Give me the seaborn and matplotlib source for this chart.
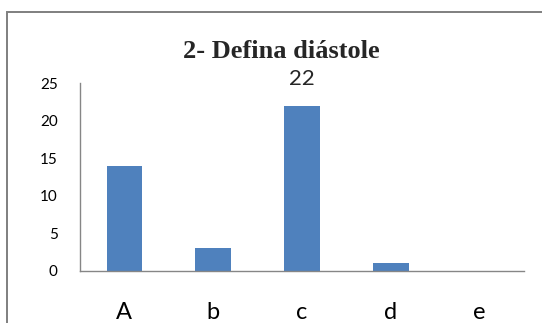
import matplotlib
matplotlib.use("Agg")
import matplotlib.pyplot as plt
import seaborn as sns
import pandas as pd
from matplotlib.patches import Rectangle

categories = ["A", "b", "c", "d", "e"]
values = [14, 3, 22, 1, 0]
labelled = {"c": 22}
title = "2- Defina diástole"

sns.set_theme(style="white")
plt.rcParams["font.family"] = ["Lato", "DejaVu Sans"]

df = pd.DataFrame({"resposta": categories, "total": values})

fig = plt.figure(figsize=(5.42, 3.23), dpi=100)
ax = fig.add_axes([80 / 542, 52 / 323, 444 / 542, 188 / 323])

sns.barplot(data=df, x="resposta", y="total", color="#4F81BD",
            width=0.4, saturation=1, ax=ax, edgecolor="none")

ax.set_ylim(0, 25)
ax.set_yticks(range(0, 26, 5))
ax.set_xlabel("")
ax.set_ylabel("")
ax.tick_params(axis="y", length=0, labelsize=11, pad=16, colors="#000000")
ax.tick_params(axis="x", length=0, labelsize=17, pad=22, colors="#000000")
for side in ["top", "right"]:
    ax.spines[side].set_visible(False)
for side in ["left", "bottom"]:
    ax.spines[side].set_color("#868686")
    ax.spines[side].set_linewidth(1.0)

# value label over the tallest bar
for i, cat in enumerate(categories):
    if cat in labelled:
        ax.annotate(str(labelled[cat]), (i, labelled[cat]), xytext=(0, 27),
                    textcoords="offset pixels",
                    ha="center", va="center", fontsize=16)

fig.text(281 / 542, 1 - 51 / 323, title, ha="center", va="center",
         fontsize=19, fontweight="bold", family="Liberation Serif")

# outer frame around the chart area
fig.patches.append(Rectangle((7 / 542, -0.1), 1.2, 1 - 12 / 323 + 0.1,
                             transform=fig.transFigure, fill=False,
                             edgecolor="#7F7F7F", linewidth=1.4))

fig.savefig("out.png", dpi=100)
